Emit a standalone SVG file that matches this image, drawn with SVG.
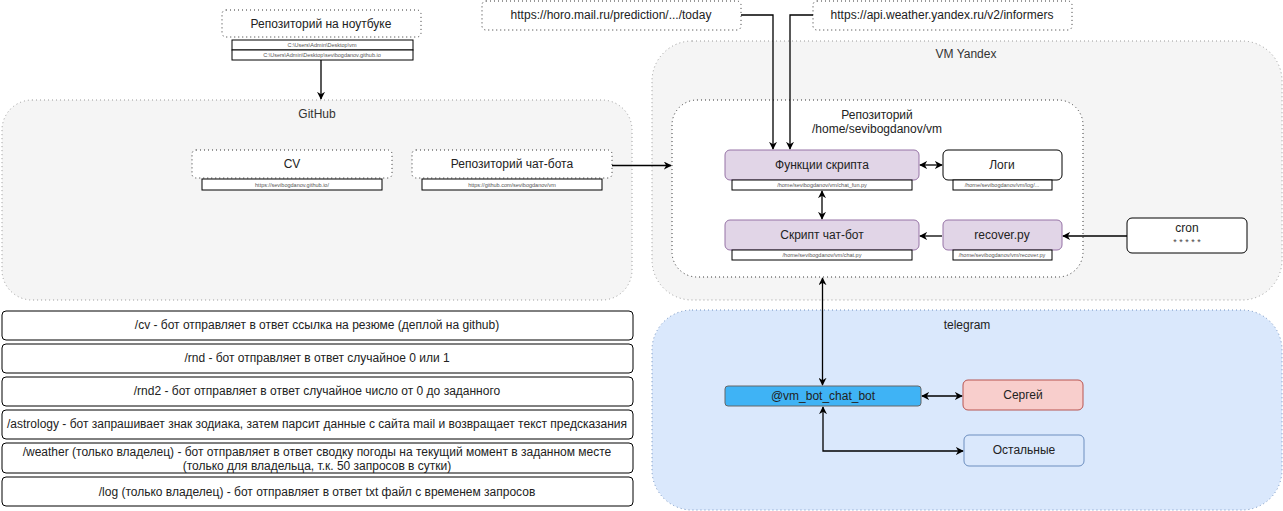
<svg xmlns="http://www.w3.org/2000/svg" width="1283" height="511" viewBox="0 0 1283 511">
<defs>
<marker id="arr" viewBox="0 0 10 10" refX="9" refY="5" markerWidth="8" markerHeight="8" orient="auto-start-reverse" markerUnits="userSpaceOnUse">
<path d="M0,0 L10,5 L0,10 L3,5 Z" fill="#000"/>
</marker>
<style>
text{font-family:"Liberation Sans",Arial,sans-serif;fill:#222;text-anchor:middle;dominant-baseline:central}
.lbl{font-size:12px}
.sm{font-size:5.5px;fill:#555}
.cont{fill:#f5f5f5;stroke:#999;stroke-dasharray:1 3;stroke-width:1}
.dot{fill:#fff;stroke:#333;stroke-dasharray:1 3;stroke-width:1}
.path{fill:#fff;stroke:#000;stroke-width:1}
.pur{fill:#e1d5e7;stroke:#9673a6;stroke-width:1}
.wb{fill:#fff;stroke:#000;stroke-width:1}
.cmd{fill:#fff;stroke:#000;stroke-width:1}
.edge{fill:none;stroke:#000;stroke-width:1.3}
</style>
</defs>

<g id="github">
<rect class="cont" x="2" y="100" width="630" height="200" rx="30"/>
<text class="lbl" x="317" y="114" style="fill:#333">GitHub</text>
</g>
<g id="vm-yandex">
<rect class="cont" x="652" y="41" width="630" height="259" rx="40"/>
<text class="lbl" x="966" y="54" style="fill:#333">VM Yandex</text>
</g>
<g id="telegram">
<rect x="652" y="310" width="630" height="200" rx="40" fill="#dae8fc" stroke="#6c8ebf" stroke-dasharray="1 3"/>
<text class="lbl" x="967" y="325">telegram</text>
</g>
<g id="vm-repo">
<rect x="672" y="100" width="411" height="177" rx="25" fill="#fff" stroke="#333" stroke-dasharray="1 3"/>
<text class="lbl" x="877" y="115">Репозиторий</text>
<text class="lbl" x="877" y="129">/home/sevibogdanov/vm</text>
</g>

<g id="laptop-repo">
<rect class="dot" x="222" y="10" width="199" height="27" rx="4"/>
<text class="lbl" x="321" y="24">Репозиторий на ноутбуке</text>
<rect class="path" x="232" y="40" width="181" height="10"/>
<text class="sm" x="322" y="45">C:\Users\Admin\Desktop\vm</text>
<rect class="path" x="232" y="50" width="181" height="10"/>
<text class="sm" x="322" y="55">C:\Users\Admin\Desktop\sevibogdanov.github.io</text>
</g>

<g id="cv">
<rect class="dot" x="192" y="150" width="200" height="28" rx="4"/>
<text class="lbl" x="292" y="164">CV</text>
<rect class="path" x="202" y="179" width="180" height="11"/>
<text class="sm" x="292" y="184.5">https://sevibogdanov.github.io/</text>
</g>
<g id="chatbot-repo">
<rect class="dot" x="412" y="150" width="200" height="28" rx="4"/>
<text class="lbl" x="512" y="164">Репозиторий чат-бота</text>
<rect class="path" x="422" y="179" width="180" height="11"/>
<text class="sm" x="512" y="184.5">https://github.com/sevibogdanov/vm</text>
</g>

<g id="horo-url">
<rect class="dot" x="482" y="1" width="259" height="29" rx="4"/>
<text class="lbl" x="611" y="15">https://horo.mail.ru/prediction/.../today</text>
</g>
<g id="weather-url">
<rect class="dot" x="813" y="1" width="259" height="29" rx="4"/>
<text class="lbl" x="942" y="15">https://api.weather.yandex.ru/v2/informers</text>
</g>

<g id="functions">
<rect class="pur" x="725" y="150" width="194" height="30" rx="5"/>
<text class="lbl" x="822" y="165">Функции скрипта</text>
<rect class="path" x="732" y="180" width="180" height="10"/>
<text class="sm" x="822" y="185">/home/sevibogdanov/vm/chat_fun.py</text>
</g>
<g id="logs">
<rect class="wb" x="943" y="150" width="119" height="30" rx="5"/>
<text class="lbl" x="1002" y="165">Логи</text>
<rect class="path" x="953" y="180" width="99" height="10"/>
<text class="sm" x="1002" y="185">/home/sevibogdanov/vm/log/...</text>
</g>
<g id="chat-script">
<rect class="pur" x="725" y="220" width="194" height="30" rx="5"/>
<text class="lbl" x="822" y="235">Скрипт чат-бот</text>
<rect class="path" x="732" y="250" width="180" height="10"/>
<text class="sm" x="822" y="255">/home/sevibogdanov/vm/chat.py</text>
</g>
<g id="recover">
<rect class="pur" x="943" y="220" width="119" height="30" rx="5"/>
<text class="lbl" x="1002" y="235">recover.py</text>
<rect class="path" x="953" y="250" width="99" height="10"/>
<text class="sm" x="1002" y="255">/home/sevibogdanov/vm/recover.py</text>
</g>
<g id="cron">
<rect class="wb" x="1127" y="218" width="120" height="35" rx="5"/>
<text class="lbl" x="1187" y="228">cron</text>
<text x="1187" y="242" style="font-size:9px;fill:#444">* * * * *</text>
</g>

<g id="bot">
<rect x="725" y="386" width="196" height="20" rx="3" fill="#3fb3f5" stroke="#666"/>
<text class="lbl" x="823" y="396">@vm_bot_chat_bot</text>
</g>
<g id="sergey">
<rect x="963" y="380" width="120" height="30" rx="5" fill="#f8cecc" stroke="#b85450"/>
<text class="lbl" x="1023" y="395">Сергей</text>
</g>
<g id="others">
<rect x="964" y="435" width="120" height="31" rx="5" fill="#dae8fc" stroke="#6c8ebf"/>
<text class="lbl" x="1024" y="450">Остальные</text>
</g>

<g id="commands">
<rect class="cmd" x="2" y="311" width="631" height="29" rx="4"/>
<text class="lbl" x="317" y="325">/cv - бот отправляет в ответ ссылка на резюме (деплой на github)</text>
<rect class="cmd" x="2" y="344" width="631" height="29" rx="4"/>
<text class="lbl" x="317" y="358">/rnd - бот отправляет в ответ случайное 0 или 1</text>
<rect class="cmd" x="2" y="377" width="631" height="29" rx="4"/>
<text class="lbl" x="317" y="391">/rnd2 - бот отправляет в ответ случайное число от 0 до заданного</text>
<rect class="cmd" x="2" y="410" width="631" height="29" rx="4"/>
<text class="lbl" x="317" y="424">/astrology - бот запрашивает знак зодиака, затем парсит данные с сайта mail и возвращает текст предсказания</text>
<rect class="cmd" x="2" y="443" width="631" height="30" rx="4"/>
<text class="lbl" x="317" y="452">/weather (только владелец) - бот отправляет в ответ сводку погоды на текущий момент в заданном месте</text>
<text class="lbl" x="317" y="466">(только для владельца, т.к. 50 запросов в сутки)</text>
<rect class="cmd" x="2" y="477" width="631" height="29" rx="4"/>
<text class="lbl" x="317" y="492">/log (только владелец) - бот отправляет в ответ txt файл с временем запросов</text>
</g>

<g id="connectors">
<path class="edge" d="M321,60 V99" marker-end="url(#arr)"/>
<path class="edge" d="M612,165.5 H671" marker-end="url(#arr)"/>
<path class="edge" d="M741,15 H773 V149" marker-end="url(#arr)"/>
<path class="edge" d="M813,15 H790 V149" marker-end="url(#arr)"/>
<path class="edge" d="M920,165 H942" marker-start="url(#arr)" marker-end="url(#arr)"/>
<path class="edge" d="M822,191 V219" marker-start="url(#arr)" marker-end="url(#arr)"/>
<path class="edge" d="M942,236 H920" marker-end="url(#arr)"/>
<path class="edge" d="M1127,236 H1063" marker-end="url(#arr)"/>
<path class="edge" d="M822.5,278 V385" marker-start="url(#arr)" marker-end="url(#arr)"/>
<path class="edge" d="M922,396 H962" marker-start="url(#arr)" marker-end="url(#arr)"/>
<path class="edge" d="M823,407 V451 H963" marker-start="url(#arr)" marker-end="url(#arr)"/>
</g>
</svg>
